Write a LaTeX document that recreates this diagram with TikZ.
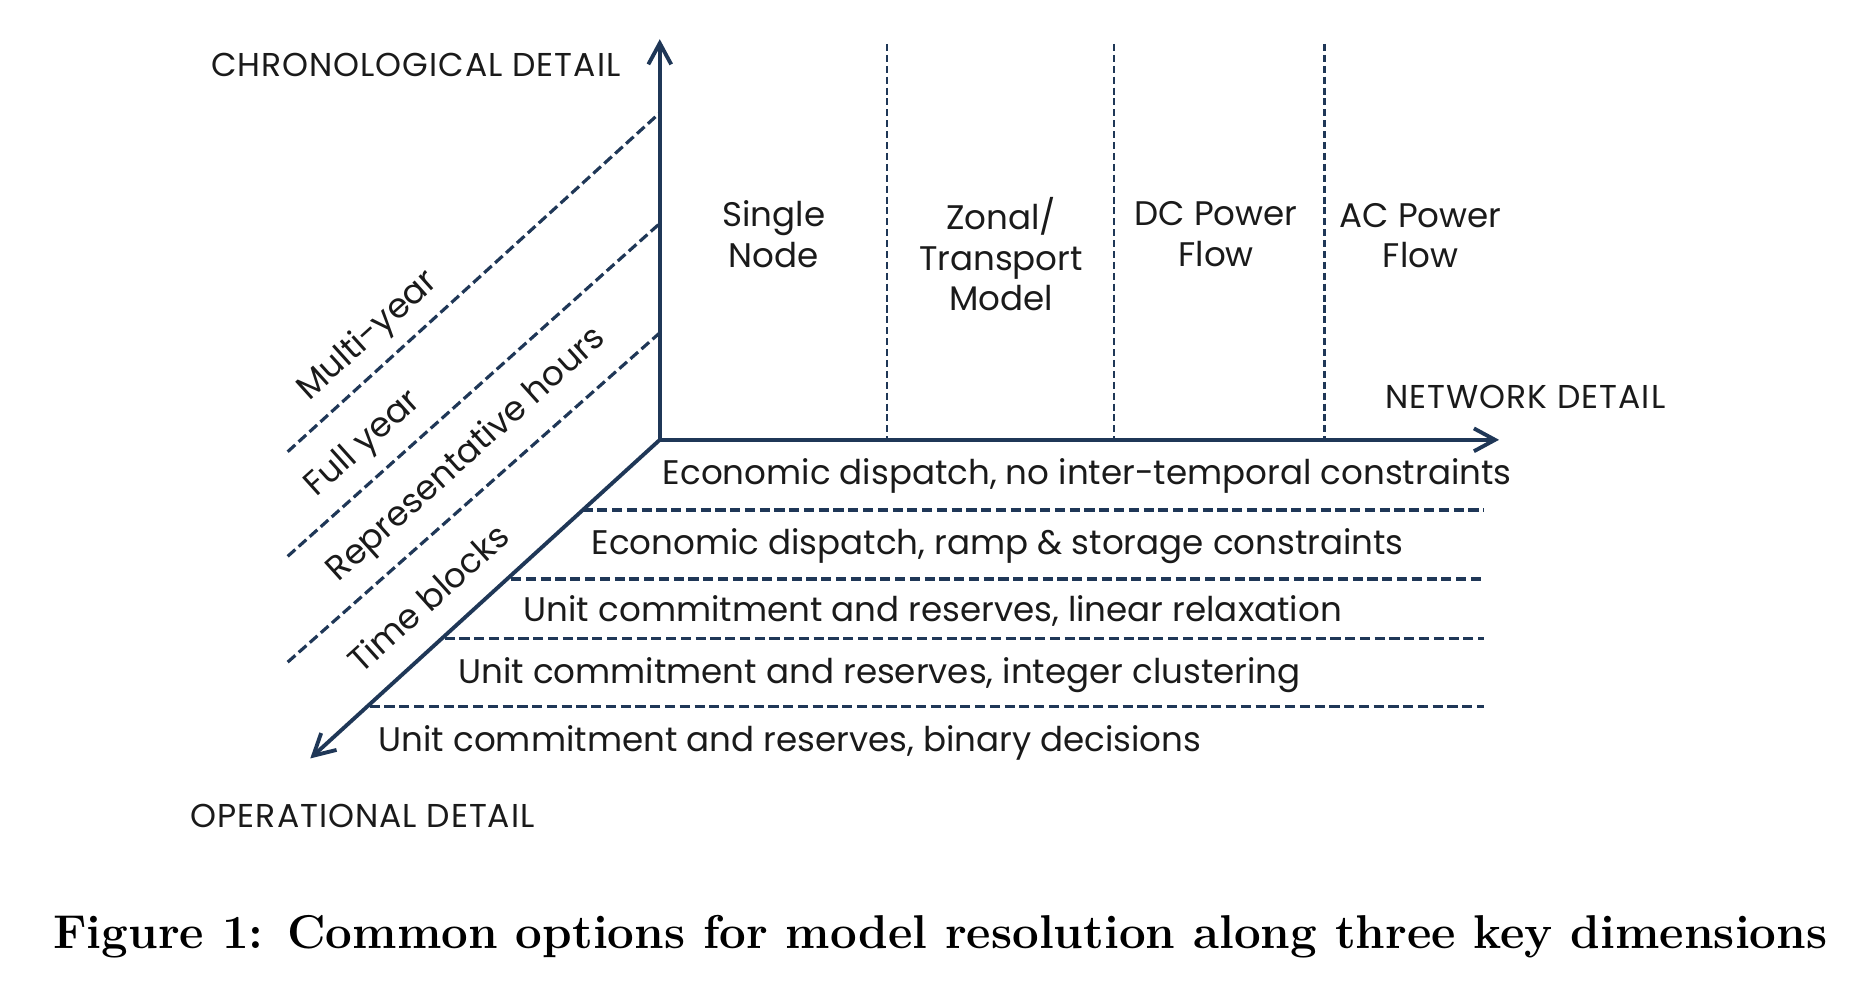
\documentclass[tikz,border=0pt]{standalone}
\usepackage{fontspec}
\newfontfamily\diagfont{Poppins}
\newfontfamily\dimfont[LetterSpace=3]{Poppins}
\usepackage{xcolor}
\definecolor{axisnavy}{HTML}{1F3757}
\definecolor{labelink}{HTML}{1A1A1A}
\usepackage{tikz}
\usetikzlibrary{arrows.meta}

\begin{document}
\begin{tikzpicture}[x=0.01189cm, y=-0.01189cm,
  axis/.style={draw=axisnavy, line width=1.1pt,
               -{Straight Barb[length=6pt,width=6.5pt,line width=1.1pt]}},
  guide/.style={draw=axisnavy, line width=0.9pt, dash pattern=on 2.9pt off 1.3pt},
  colline/.style={draw=axisnavy, line width=0.75pt, dash pattern=on 2pt off 1.1pt},
  dimlabel/.style={font=\dimfont\fontsize{9.4}{11}\selectfont, text=labelink, inner sep=0pt},
  optlabel/.style={font=\diagfont\fontsize{9.7}{11.5}\selectfont, text=labelink, inner sep=0pt},
  collabel/.style={optlabel, align=center},
  slantlabel/.style={optlabel, rotate=42}
]
  \useasboundingbox (0,0) rectangle (1568,833);

  % Axes
  \coordinate (O) at (555,370);
  \coordinate (chrontip) at (555,33);
  \coordinate (nettip) at (1261,370);
  \coordinate (optip) at (261,638);
  \draw[axis] (O) -- (chrontip);
  \draw[axis] (O) -- (nettip);
  \draw[axis] (O) -- (optip);

  % Network columns
  \foreach \i/\x in {1/746, 2/937, 3/1114} {
    \coordinate (col\i top) at (\x,37);
    \coordinate (col\i bot) at (\x,370);
    \draw[colline] (col\i top) -- (col\i bot);
  }
  \node[collabel] (single) at (651,197) {Single\\Node};
  \node[collabel] (zonal) at (842,214) {Zonal/\\Transport\\Model};
  \node[collabel] (dcflow) at (1023,197) {DC Power\\Flow};
  \node[collabel] (acflow) at (1195,198) {AC Power\\Flow};

  % Chronological levels
  \foreach \i/\ya/\yb in {1/380/95, 2/468/188, 3/557/280} {
    \coordinate (chron\i a) at (242,\ya);
    \coordinate (chron\i b) at (555,\yb);
    \draw[guide] (chron\i a) -- (chron\i b);
  }
  \node[slantlabel] (multi) at (310,283) {Multi-year};
  \node[slantlabel] (fullyr) at (306,374) {Full year};
  \node[slantlabel] (rephrs) at (393,383) {Representative hours};
  \node[slantlabel] (tblocks) at (360,503) {Time blocks};

  % Operational levels
  \foreach \i/\x/\y in {1/490/429, 2/430/487, 3/374/537, 4/311/594} {
    \coordinate (op\i a) at (\x,\y);
    \coordinate (op\i b) at (1248,\y);
    \draw[guide] (op\i a) -- (op\i b);
  }
  \node[optlabel, anchor=west] (row1) at (557,400) {Economic dispatch, no inter-temporal constraints};
  \node[optlabel, anchor=west] (row2) at (497,459) {Economic dispatch, ramp \& storage constraints};
  \node[optlabel, anchor=west] (row3) at (440,514) {Unit commitment and reserves, linear relaxation};
  \node[optlabel, anchor=west] (row4) at (385,568) {Unit commitment and reserves, integer clustering};
  \node[optlabel, anchor=west] (row5) at (318,625) {Unit commitment and reserves, binary decisions};

  % Dimension labels
  \node[dimlabel, anchor=west] (chrono) at (177,55) {CHRONOLOGICAL DETAIL};
  \node[dimlabel, anchor=west] (network) at (1165,334) {NETWORK DETAIL};
  \node[dimlabel, anchor=west] (operat) at (160,686) {OPERATIONAL DETAIL};

  % Caption
  \node[font=\bfseries\fontsize{13.5}{16}\selectfont, inner sep=0pt] (caption) at (791,788)
    {Figure 1: Common options for model resolution along three key dimensions};
\end{tikzpicture}
\end{document}
